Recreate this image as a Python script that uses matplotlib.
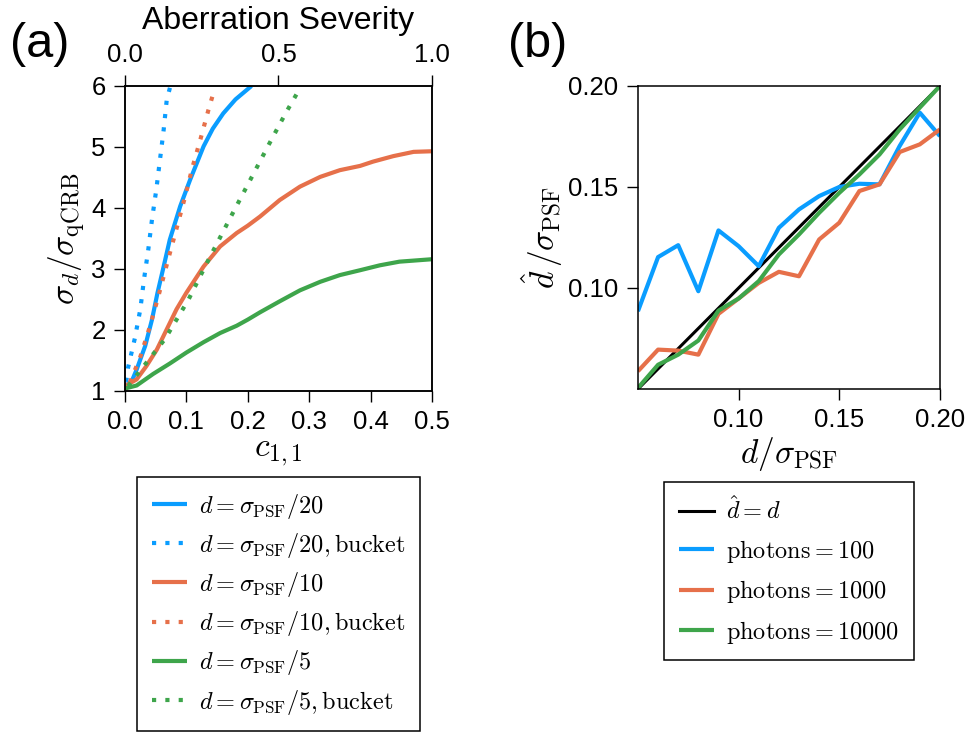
import numpy as np
import matplotlib.pyplot as plt

plt.rcParams['font.family'] = ['Liberation Sans', 'DejaVu Sans']
plt.rcParams['mathtext.fontset'] = 'cm'

BLUE = '#0A9DFF'
ORANGE = '#E6704A'
GREEN = '#3EA54B'

# (a) sigma_d / sigma_qCRB vs c_{1,1}
c20 = [0.0, 0.011, 0.019, 0.033, 0.044, 0.053, 0.063, 0.073, 0.090, 0.106, 0.128,
       0.143, 0.160, 0.180, 0.206]
s20 = [1.08, 1.16, 1.35, 1.74, 2.17, 2.61, 3.04, 3.48, 4.03, 4.46, 5.01,
       5.30, 5.55, 5.78, 6.0]
c20b = [0.002, 0.005, 0.016, 0.025, 0.031, 0.038, 0.044, 0.051, 0.057, 0.063, 0.068, 0.074]
s20b = [1.15, 1.38, 1.86, 2.34, 2.83, 3.32, 3.81, 4.30, 4.79, 5.28, 5.77, 6.0]

c10 = [0.0, 0.019, 0.035, 0.052, 0.068, 0.084, 0.100, 0.128, 0.155, 0.182, 0.200, 0.220,
       0.252, 0.285, 0.318, 0.350, 0.383, 0.404, 0.437, 0.470, 0.500]
s10 = [1.08, 1.19, 1.41, 1.68, 2.01, 2.34, 2.61, 3.04, 3.37, 3.59, 3.71, 3.86,
       4.13, 4.35, 4.51, 4.62, 4.69, 4.76, 4.85, 4.92, 4.93]
c10b = [0.008, 0.025, 0.040, 0.053, 0.072, 0.085, 0.098, 0.110, 0.123, 0.136, 0.143]
s10b = [1.14, 1.56, 2.04, 2.50, 3.22, 3.70, 4.19, 4.67, 5.13, 5.61, 5.85]

c5 = [0.0, 0.019, 0.046, 0.073, 0.100, 0.128, 0.155, 0.182, 0.200, 0.220, 0.252,
      0.285, 0.318, 0.350, 0.383, 0.415, 0.447, 0.500]
s5 = [1.04, 1.09, 1.28, 1.45, 1.63, 1.80, 1.95, 2.07, 2.17, 2.29, 2.47,
      2.65, 2.79, 2.90, 2.98, 3.06, 3.12, 3.16]
c5b = [0.005, 0.030, 0.065, 0.103, 0.136, 0.170, 0.204, 0.239, 0.262, 0.286]
s5b = [1.08, 1.40, 1.85, 2.49, 3.15, 3.81, 4.46, 5.13, 5.56, 5.98]

# (b) estimated vs true separation
d_true = [0.05, 0.06, 0.07, 0.08, 0.09, 0.10, 0.11, 0.12,
          0.13, 0.14, 0.15, 0.16, 0.17, 0.18, 0.19, 0.20]
d_100 = [0.0885, 0.1153, 0.1212, 0.0984, 0.1285, 0.1207, 0.1108, 0.1298,
         0.1389, 0.1455, 0.1500, 0.1516, 0.1513, 0.1703, 0.1868, 0.1752]
d_1000 = [0.0588, 0.0695, 0.0690, 0.0670, 0.0872, 0.0948, 0.1025, 0.1080,
          0.1058, 0.1240, 0.1323, 0.1480, 0.1513, 0.1673, 0.1711, 0.1785]
d_10000 = [0.0505, 0.0620, 0.0670, 0.0740, 0.0888, 0.0948, 0.1034, 0.1166,
           0.1265, 0.1372, 0.1471, 0.1562, 0.1661, 0.1785, 0.1893, 0.2000]

fig = plt.figure(figsize=(9.71, 7.33), dpi=100)
lw = 3.0
dots = (0, (1, 2.2))
line_kw = dict(solid_joinstyle='round', solid_capstyle='butt')

ax1 = fig.add_axes([0.1287, 0.4666, 0.3162, 0.4161])
ax1.plot(c20, s20, color=BLUE, lw=lw, label=r'$d=\sigma_{\rm PSF}/20$', **line_kw)
ax1.plot(c20b, s20b, color=BLUE, lw=lw, ls=dots, label=r'$d=\sigma_{\rm PSF}/20, \mathrm{bucket}$')
ax1.plot(c10, s10, color=ORANGE, lw=lw, label=r'$d=\sigma_{\rm PSF}/10$', **line_kw)
ax1.plot(c10b, s10b, color=ORANGE, lw=lw, ls=dots, label=r'$d=\sigma_{\rm PSF}/10, \mathrm{bucket}$')
ax1.plot(c5, s5, color=GREEN, lw=lw, label=r'$d=\sigma_{\rm PSF}/5$', **line_kw)
ax1.plot(c5b, s5b, color=GREEN, lw=lw, ls=dots, label=r'$d=\sigma_{\rm PSF}/5, \mathrm{bucket}$')
ax1.set_xlim(0, 0.5)
ax1.set_ylim(1, 6)
ax1.set_xticks([0, 0.1, 0.2, 0.3, 0.4, 0.5])
ax1.set_xticklabels(['0.0', '0.1', '0.2', '0.3', '0.4', '0.5'])
ax1.set_yticks([1, 2, 3, 4, 5, 6])
ax1.set_xlabel(r'$c_{1,1}$', fontsize=24, labelpad=2)
ax1.set_ylabel(r'$\sigma_d/\sigma_{\rm qCRB}$', fontsize=24, labelpad=2)

top = ax1.twiny()
top.set_xlim(0, 1)
top.set_xticks([0, 0.5, 1.0])
top.set_xticklabels(['0.0', '0.5', '1.0'])
top.set_xlabel('Aberration Severity', fontsize=23, labelpad=10)

ax2 = fig.add_axes([0.657, 0.4693, 0.311, 0.4134])
ax2.plot(d_true, d_true, color='black', lw=2.2, label=r'$\hat{d}=d$')
ax2.plot(d_true, d_100, color=BLUE, lw=lw, label=r'$\mathrm{photons}=100$', **line_kw)
ax2.plot(d_true, d_1000, color=ORANGE, lw=lw, label=r'$\mathrm{photons}=1000$', **line_kw)
ax2.plot(d_true, d_10000, color=GREEN, lw=lw, label=r'$\mathrm{photons}=10000$', **line_kw)
ax2.set_xlim(0.05, 0.20)
ax2.set_ylim(0.05, 0.20)
ax2.set_xticks([0.10, 0.15, 0.20])
ax2.set_xticklabels(['0.10', '0.15', '0.20'])
ax2.set_yticks([0.10, 0.15, 0.20])
ax2.set_yticklabels(['0.10', '0.15', '0.20'])
ax2.set_xlabel(r'$d/\sigma_{\rm PSF}$', fontsize=24, labelpad=2)
ax2.set_ylabel(r'$\hat{d}\,/\sigma_{\rm PSF}$', fontsize=24, labelpad=2)

for ax in (ax1, ax2, top):
    ax.tick_params(direction='out', length=8, width=1, labelsize=18.5, pad=6)
    for sp in ax.spines.values():
        sp.set_linewidth(1.1)

leg_kw = dict(fontsize=17.5, frameon=True, fancybox=False, edgecolor='black',
              framealpha=1, handlelength=1.45, borderpad=0.6,
              handletextpad=0.5, borderaxespad=0)
l1 = fig.legend(handles=ax1.get_lines(), loc='upper center', labelspacing=0.42,
                bbox_to_anchor=(0.287, 1 - 477 / 733), **leg_kw)
l2 = fig.legend(handles=ax2.get_lines(), loc='upper center', labelspacing=0.55,
                bbox_to_anchor=(0.8126, 1 - 482 / 733), **leg_kw)
for l in (l1, l2):
    l.get_frame().set_linewidth(1.1)

fig.text(0.010, 1 - 22 / 733, '(a)', fontsize=35, va='top')
fig.text(0.523, 1 - 22 / 733, '(b)', fontsize=35, va='top')

fig.savefig('out.png', dpi=100)
